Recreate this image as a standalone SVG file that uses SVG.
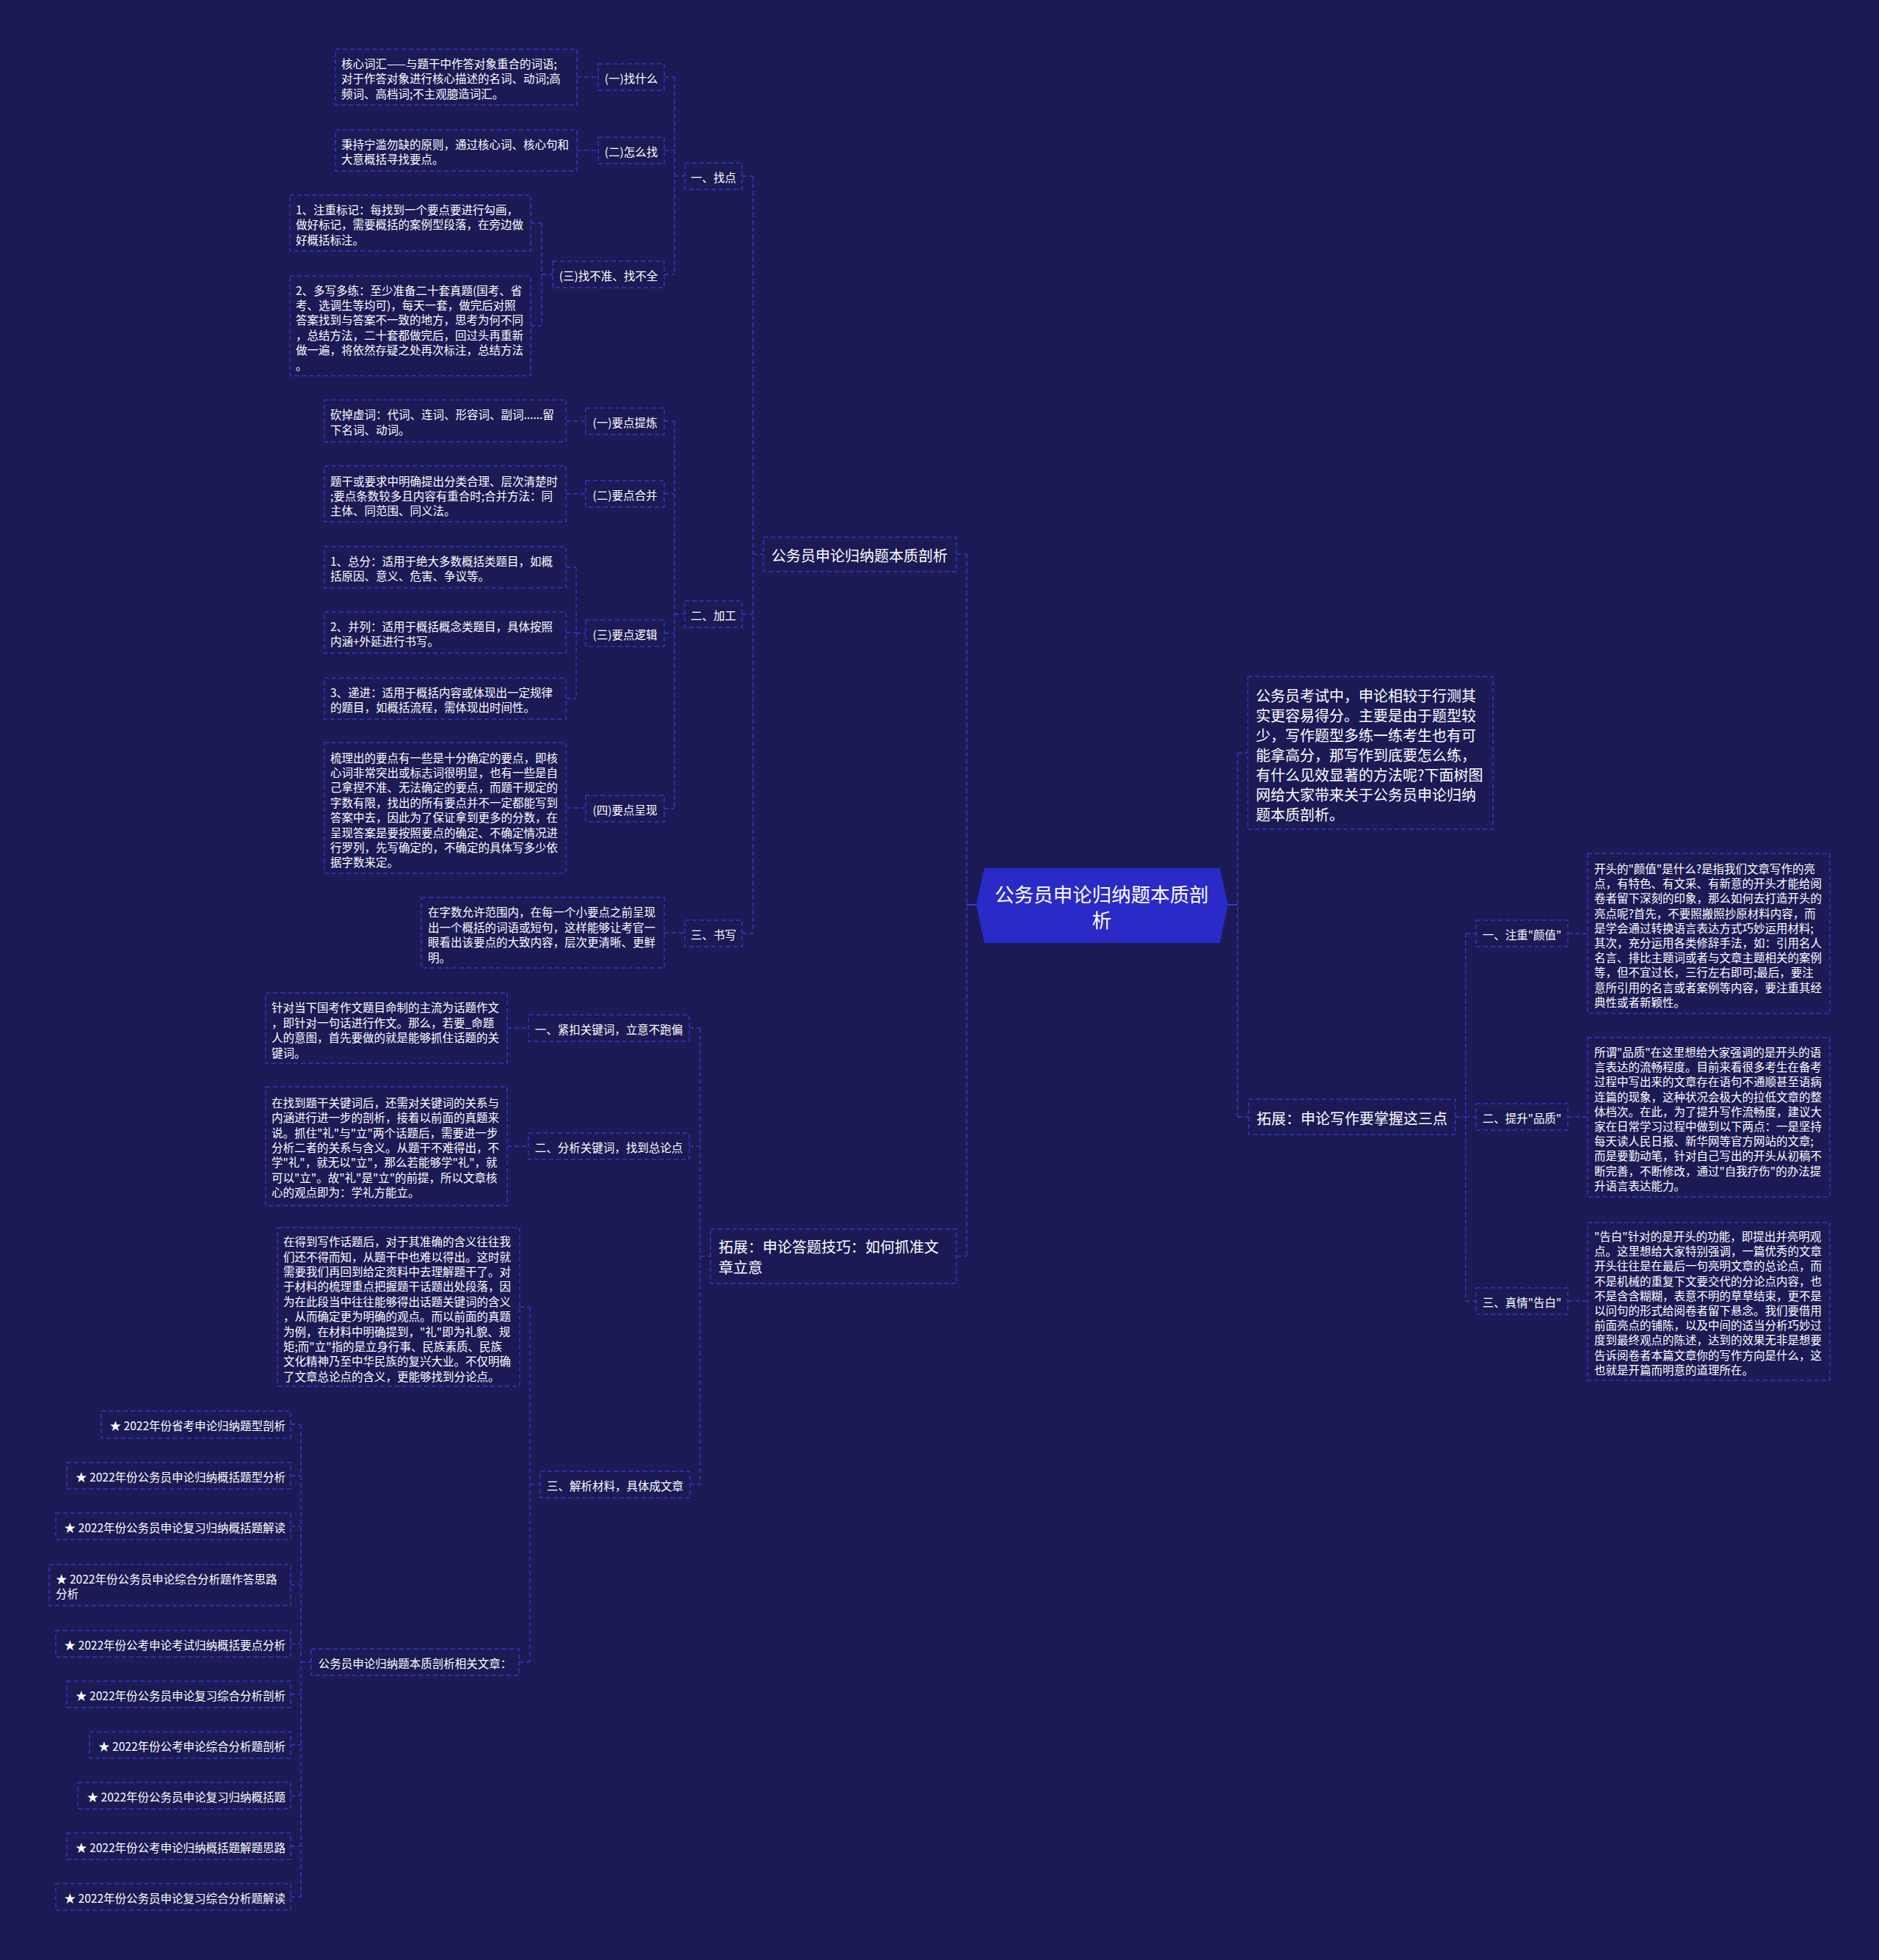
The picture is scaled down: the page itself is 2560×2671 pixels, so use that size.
<svg xmlns="http://www.w3.org/2000/svg" width="2560" height="2671" viewBox="0 0 2560 2671">
<style>
.n{fill:#1b1a54;stroke:#3535c6;stroke-width:1.5;stroke-dasharray:6 4}
.c{fill:none;stroke:#3636c8;stroke-width:1.5;stroke-dasharray:6 4}
.cs{fill:none;stroke:#3a3ad2;stroke-width:2}
text{fill:#ffffff;font-family:"Noto Sans CJK SC","Noto Sans",sans-serif;font-size:15.5px;dominant-baseline:central}
.b{font-size:20px}
.m{text-anchor:middle}
.e{text-anchor:end}
.ct{font-size:26.5px;text-anchor:middle}
</style>
<rect x="0" y="0" width="2560" height="2671" fill="#1b1a54"/>

<g id="connectors">
<path class="cs" d="M1330,1233 H1317 M1673,1233 H1686"/>
<path class="c" d="M1317,755 V1712 M1303,755 H1317 M1303,1712 H1317"/>
<path class="c" d="M1686,1026 V1522 M1686,1026 H1700 M1686,1522 H1701"/>
<path class="c" d="M1026,240 V1272 M1011,240 H1026 M1011,837 H1026 M1011,1272 H1026 M1026,755 H1040"/>
<path class="c" d="M919,105 V374 M905,105 H919 M905,205 H919 M905,374 H919 M919,240 H933"/>
<path class="c" d="M786,105 H815 M786,205 H815"/>
<path class="c" d="M738,304 V444 M723,304 H738 M723,444 H738 M738,374 H753"/>
<path class="c" d="M919,574 V1102 M905,574 H919 M905,673 H919 M905,863 H919 M905,1102 H919 M919,837 H933"/>
<path class="c" d="M771,574 H798 M771,673 H798 M771,1101 H798"/>
<path class="c" d="M785,773 V952 M771,773 H785 M771,862 H785 M771,952 H785 M785,863 H798"/>
<path class="c" d="M905,1271 H933"/>
<path class="c" d="M954,1401 V2023 M939,1401 H954 M939,1562 H954 M940,2023 H954 M954,1712 H968"/>
<path class="c" d="M691,1401 H720 M691,1562 H720"/>
<path class="c" d="M722,1781 V2265 M708,1781 H722 M707,2265 H722 M722,2023 H736"/>
<path class="c" d="M410,1941 V2585 M396,1941 H410 M396,2011 H410 M396,2080 H410 M396,2160 H410 M396,2240 H410 M396,2309 H410 M396,2378 H410 M396,2447 H410 M396,2516 H410 M396,2585 H410 M410,2265 H424"/>
<path class="c" d="M1983,1522 H1997 M1997,1272 V1773 M1997,1272 H2011 M1997,1522 H2011 M1997,1773 H2011"/>
<path class="c" d="M2136,1272 H2163 M2136,1522 H2163 M2136,1773 H2163"/>
</g>

<g id="center">
<polygon points="1341,1183 1662,1183 1673,1233 1662,1285 1341,1285 1330,1233" fill="#2a2ac8"/>
<text class="ct" x="1501" y="1217">公务员申论归纳题本质剖</text>
<text class="ct" x="1501" y="1252">析</text>
</g>

<g id="n-l1a"><rect class="n" x="1040" y="732" width="263" height="47"/><text class="b m" x="1171" y="756">公务员申论归纳题本质剖析</text></g>
<g id="n-l1b"><rect class="n" x="968" y="1675" width="335" height="74"/><text class="b" x="979" y="1698">拓展：申论答题技巧：如何抓准文</text><text class="b" x="979" y="1726">章立意</text></g>

<g id="n-zhaodian"><rect class="n" x="933" y="222" width="78" height="36"/><text class="m" x="972" y="241">一、找点</text></g>
<g id="n-jiagong"><rect class="n" x="933" y="819" width="78" height="36"/><text class="m" x="972" y="838">二、加工</text></g>
<g id="n-shuxie"><rect class="n" x="933" y="1254" width="78" height="36"/><text class="m" x="972" y="1273">三、书写</text></g>

<g id="n-zsm"><rect class="n" x="815" y="87" width="90" height="36"/><text class="m" x="860" y="106">(一)找什么</text></g>
<g id="n-zmz"><rect class="n" x="815" y="187" width="90" height="36"/><text class="m" x="860" y="206">(二)怎么找</text></g>
<g id="n-zbz"><rect class="n" x="753" y="356" width="152" height="36"/><text class="m" x="829" y="375">(三)找不准、找不全</text></g>

<g id="n-a1"><rect class="n" x="457" y="67" width="329" height="76"/>
<text x="465" y="86">核心词汇——与题干中作答对象重合的词语;</text>
<text x="465" y="106.4">对于作答对象进行核心描述的名词、动词;高</text>
<text x="465" y="126.8">频词、高档词;不主观臆造词汇。</text></g>
<g id="n-a2"><rect class="n" x="457" y="177" width="329" height="56"/>
<text x="465" y="196">秉持宁滥勿缺的原则，通过核心词、核心句和</text>
<text x="465" y="216.4">大意概括寻找要点。</text></g>
<g id="n-a3"><rect class="n" x="395" y="266" width="328" height="76"/>
<text x="403" y="285">1、注重标记：每找到一个要点要进行勾画，</text>
<text x="403" y="305.4">做好标记，需要概括的案例型段落，在旁边做</text>
<text x="403" y="325.8">好概括标注。</text></g>
<g id="n-a4"><rect class="n" x="395" y="376" width="328" height="136"/>
<text x="403" y="394.5">2、多写多练：至少准备二十套真题(国考、省</text>
<text x="403" y="414.9">考、选调生等均可)，每天一套，做完后对照</text>
<text x="403" y="435.3">答案找到与答案不一致的地方，思考为何不同</text>
<text x="403" y="455.7">，总结方法，二十套都做完后，回过头再重新</text>
<text x="403" y="476.1">做一遍，将依然存疑之处再次标注，总结方法</text>
<text x="403" y="496.5">。</text></g>

<g id="n-ydtl"><rect class="n" x="798" y="556" width="107" height="36"/><text class="m" x="851.5" y="575">(一)要点提炼</text></g>
<g id="n-ydhb"><rect class="n" x="798" y="655" width="107" height="36"/><text class="m" x="851.5" y="674">(二)要点合并</text></g>
<g id="n-ydlj"><rect class="n" x="798" y="845" width="107" height="36"/><text class="m" x="851.5" y="864">(三)要点逻辑</text></g>
<g id="n-ydcx"><rect class="n" x="798" y="1084" width="107" height="36"/><text class="m" x="851.5" y="1103">(四)要点呈现</text></g>

<g id="n-b1"><rect class="n" x="442" y="545" width="329" height="57"/>
<text x="450" y="564.3">砍掉虚词：代词、连词、形容词、副词......留</text>
<text x="450" y="584.7">下名词、动词。</text></g>
<g id="n-b2"><rect class="n" x="442" y="635" width="329" height="76"/>
<text x="450" y="654.6">题干或要求中明确提出分类合理、层次清楚时</text>
<text x="450" y="675">;要点条数较多且内容有重合时;合并方法：同</text>
<text x="450" y="695.4">主体、同范围、同义法。</text></g>
<g id="n-b3"><rect class="n" x="442" y="745" width="329" height="56"/>
<text x="450" y="764">1、总分：适用于绝大多数概括类题目，如概</text>
<text x="450" y="784.4">括原因、意义、危害、争议等。</text></g>
<g id="n-b4"><rect class="n" x="442" y="834" width="329" height="56"/>
<text x="450" y="853">2、并列：适用于概括概念类题目，具体按照</text>
<text x="450" y="873.4">内涵+外延进行书写。</text></g>
<g id="n-b5"><rect class="n" x="442" y="924" width="329" height="56"/>
<text x="450" y="943">3、递进：适用于概括内容或体现出一定规律</text>
<text x="450" y="963.4">的题目，如概括流程，需体现出时间性。</text></g>
<g id="n-b6"><rect class="n" x="442" y="1012" width="329" height="178"/>
<text x="450" y="1031.6">梳理出的要点有一些是十分确定的要点，即核</text>
<text x="450" y="1052">心词非常突出或标志词很明显，也有一些是自</text>
<text x="450" y="1072.4">己拿捏不准、无法确定的要点，而题干规定的</text>
<text x="450" y="1092.8">字数有限，找出的所有要点并不一定都能写到</text>
<text x="450" y="1113.2">答案中去，因此为了保证拿到更多的分数，在</text>
<text x="450" y="1133.6">呈现答案是要按照要点的确定、不确定情况进</text>
<text x="450" y="1154">行罗列，先写确定的，不确定的具体写多少依</text>
<text x="450" y="1174.4">据字数来定。</text></g>

<g id="n-c1"><rect class="n" x="574" y="1223" width="331" height="96"/>
<text x="583" y="1242.4">在字数允许范围内，在每一个小要点之前呈现</text>
<text x="583" y="1262.8">出一个概括的词语或短句，这样能够让考官一</text>
<text x="583" y="1283.2">眼看出该要点的大致内容，层次更清晰、更鲜</text>
<text x="583" y="1303.6">明。</text></g>

<g id="n-jk"><rect class="n" x="720" y="1383" width="219" height="36"/><text class="m" x="829.5" y="1402">一、紧扣关键词，立意不跑偏</text></g>
<g id="n-fx"><rect class="n" x="720" y="1544" width="219" height="36"/><text class="m" x="829.5" y="1563">二、分析关键词，找到总论点</text></g>
<g id="n-jx"><rect class="n" x="736" y="2005" width="204" height="36"/><text class="m" x="838" y="2024">三、解析材料，具体成文章</text></g>

<g id="n-d1"><rect class="n" x="362" y="1353" width="329" height="96"/>
<text x="370" y="1372.4">针对当下国考作文题目命制的主流为话题作文</text>
<text x="370" y="1392.8">，即针对一句话进行作文。那么，若要_命题</text>
<text x="370" y="1413.2">人的意图，首先要做的就是能够抓住话题的关</text>
<text x="370" y="1433.6">键词。</text></g>
<g id="n-d2"><rect class="n" x="362" y="1481" width="329" height="162"/>
<text x="370" y="1501.8">在找到题干关键词后，还需对关键词的关系与</text>
<text x="370" y="1522.2">内涵进行进一步的剖析，接着以前面的真题来</text>
<text x="370" y="1542.6">说。抓住"礼"与"立"两个话题后，需要进一步</text>
<text x="370" y="1563">分析二者的关系与含义。从题干不难得出，不</text>
<text x="370" y="1583.4">学"礼"，就无以"立"，那么若能够学"礼"，就</text>
<text x="370" y="1603.8">可以"立"。故"礼"是"立"的前提，所以文章核</text>
<text x="370" y="1624.2">心的观点即为：学礼方能立。</text></g>
<g id="n-d3"><rect class="n" x="378" y="1673" width="330" height="216"/>
<text x="386" y="1691.2">在得到写作话题后，对于其准确的含义往往我</text>
<text x="386" y="1711.6">们还不得而知，从题干中也难以得出。这时就</text>
<text x="386" y="1732">需要我们再回到给定资料中去理解题干了。对</text>
<text x="386" y="1752.4">于材料的梳理重点把握题干话题出处段落，因</text>
<text x="386" y="1772.8">为在此段当中往往能够得出话题关键词的含义</text>
<text x="386" y="1793.2">，从而确定更为明确的观点。而以前面的真题</text>
<text x="386" y="1813.6">为例，在材料中明确提到，"礼"即为礼貌、规</text>
<text x="386" y="1834">矩;而"立"指的是立身行事、民族素质、民族</text>
<text x="386" y="1854.4">文化精神乃至中华民族的复兴大业。不仅明确</text>
<text x="386" y="1874.8">了文章总论点的含义，更能够找到分论点。</text></g>

<g id="n-xgwz"><rect class="n" x="424" y="2247" width="283" height="36"/><text class="m" x="565.5" y="2266">公务员申论归纳题本质剖析相关文章：</text></g>

<g id="n-s1"><rect class="n" x="138" y="1923" width="258" height="37"/><text class="e" x="389" y="1942">★ 2022年份省考申论归纳题型剖析</text></g>
<g id="n-s2"><rect class="n" x="91" y="1993" width="305" height="36"/><text class="e" x="389" y="2012">★ 2022年份公务员申论归纳概括题型分析</text></g>
<g id="n-s3"><rect class="n" x="76" y="2062" width="320" height="36"/><text class="e" x="389" y="2081">★ 2022年份公务员申论复习归纳概括题解读</text></g>
<g id="n-s4"><rect class="n" x="67" y="2132" width="329" height="56"/><text x="76" y="2151">★ 2022年份公务员申论综合分析题作答思路</text><text x="76" y="2171">分析</text></g>
<g id="n-s5"><rect class="n" x="76" y="2222" width="320" height="36"/><text class="e" x="389" y="2241">★ 2022年份公考申论考试归纳概括要点分析</text></g>
<g id="n-s6"><rect class="n" x="91" y="2291" width="305" height="36"/><text class="e" x="389" y="2310">★ 2022年份公务员申论复习综合分析剖析</text></g>
<g id="n-s7"><rect class="n" x="122" y="2360" width="274" height="36"/><text class="e" x="389" y="2379">★ 2022年份公考申论综合分析题剖析</text></g>
<g id="n-s8"><rect class="n" x="106" y="2429" width="290" height="36"/><text class="e" x="389" y="2448">★ 2022年份公务员申论复习归纳概括题</text></g>
<g id="n-s9"><rect class="n" x="91" y="2498" width="305" height="36"/><text class="e" x="389" y="2517">★ 2022年份公考申论归纳概括题解题思路</text></g>
<g id="n-s10"><rect class="n" x="76" y="2567" width="320" height="36"/><text class="e" x="389" y="2586">★ 2022年份公务员申论复习综合分析题解读</text></g>

<g id="n-r0"><rect class="n" x="1700" y="922" width="334" height="208"/>
<text class="b" x="1711" y="947">公务员考试中，申论相较于行测其</text>
<text class="b" x="1711" y="974">实更容易得分。主要是由于题型较</text>
<text class="b" x="1711" y="1001">少，写作题型多练一练考生也有可</text>
<text class="b" x="1711" y="1028">能拿高分，那写作到底要怎么练，</text>
<text class="b" x="1711" y="1055">有什么见效显著的方法呢?下面树图</text>
<text class="b" x="1711" y="1082">网给大家带来关于公务员申论归纳</text>
<text class="b" x="1711" y="1109">题本质剖析。</text></g>
<g id="n-r1"><rect class="n" x="1701" y="1498" width="282" height="48"/><text class="b m" x="1842" y="1523">拓展：申论写作要掌握这三点</text></g>

<g id="n-yz"><rect class="n" x="2011" y="1254" width="125" height="36"/><text class="m" x="2073.5" y="1273">一、注重"颜值"</text></g>
<g id="n-pz"><rect class="n" x="2011" y="1504" width="125" height="36"/><text class="m" x="2073.5" y="1523">二、提升"品质"</text></g>
<g id="n-gb"><rect class="n" x="2011" y="1755" width="125" height="36"/><text class="m" x="2073.5" y="1774">三、真情"告白"</text></g>

<g id="n-r2"><rect class="n" x="2163" y="1163" width="330" height="218"/>
<text x="2172" y="1183">开头的"颜值"是什么?是指我们文章写作的亮</text>
<text x="2172" y="1203.2">点，有特色、有文采、有新意的开头才能给阅</text>
<text x="2172" y="1223.4">卷者留下深刻的印象，那么如何去打造开头的</text>
<text x="2172" y="1243.6">亮点呢?首先，不要照搬照抄原材料内容，而</text>
<text x="2172" y="1263.8">是学会通过转换语言表达方式巧妙运用材料;</text>
<text x="2172" y="1284">其次，充分运用各类修辞手法，如：引用名人</text>
<text x="2172" y="1304.2">名言、排比主题词或者与文章主题相关的案例</text>
<text x="2172" y="1324.4">等，但不宜过长，三行左右即可;最后，要注</text>
<text x="2172" y="1344.6">意所引用的名言或者案例等内容，要注重其经</text>
<text x="2172" y="1364.8">典性或者新颖性。</text></g>
<g id="n-r3"><rect class="n" x="2163" y="1414" width="330" height="217"/>
<text x="2172" y="1433">所谓"品质"在这里想给大家强调的是开头的语</text>
<text x="2172" y="1453.2">言表达的流畅程度。目前来看很多考生在备考</text>
<text x="2172" y="1473.4">过程中写出来的文章存在语句不通顺甚至语病</text>
<text x="2172" y="1493.6">连篇的现象，这种状况会极大的拉低文章的整</text>
<text x="2172" y="1513.8">体档次。在此，为了提升写作流畅度，建议大</text>
<text x="2172" y="1534">家在日常学习过程中做到以下两点：一是坚持</text>
<text x="2172" y="1554.2">每天读人民日报、新华网等官方网站的文章;</text>
<text x="2172" y="1574.4">而是要勤动笔，针对自己写出的开头从初稿不</text>
<text x="2172" y="1594.6">断完善，不断修改，通过"自我疗伤"的办法提</text>
<text x="2172" y="1614.8">升语言表达能力。</text></g>
<g id="n-r4"><rect class="n" x="2163" y="1666" width="330" height="215"/>
<text x="2172" y="1684">"告白"针对的是开头的功能，即提出并亮明观</text>
<text x="2172" y="1704.2">点。这里想给大家特别强调，一篇优秀的文章</text>
<text x="2172" y="1724.4">开头往往是在最后一句亮明文章的总论点，而</text>
<text x="2172" y="1744.6">不是机械的重复下文要交代的分论点内容，也</text>
<text x="2172" y="1764.8">不是含含糊糊，表意不明的草草结束，更不是</text>
<text x="2172" y="1785">以问句的形式给阅卷者留下悬念。我们要借用</text>
<text x="2172" y="1805.2">前面亮点的铺陈，以及中间的适当分析巧妙过</text>
<text x="2172" y="1825.4">度到最终观点的陈述，达到的效果无非是想要</text>
<text x="2172" y="1845.6">告诉阅卷者本篇文章你的写作方向是什么，这</text>
<text x="2172" y="1865.8">也就是开篇而明意的道理所在。</text></g>
</svg>
